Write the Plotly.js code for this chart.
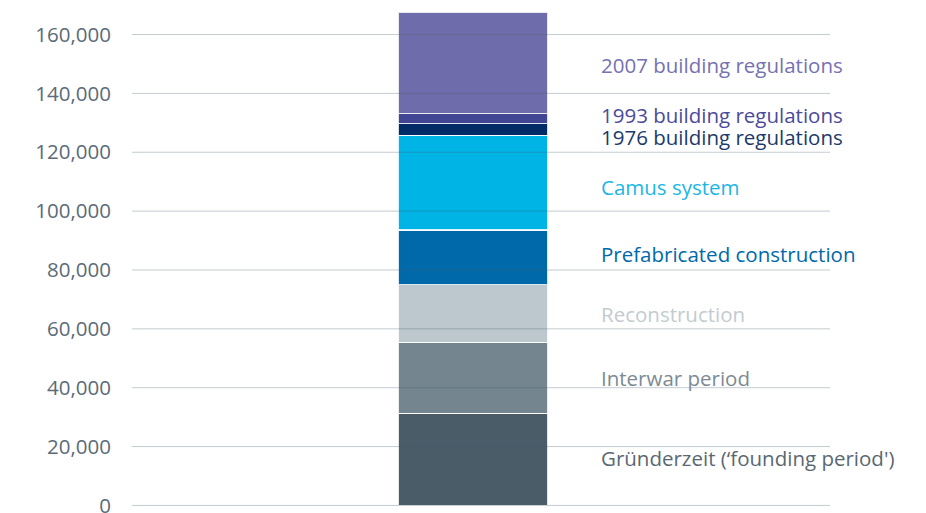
<!DOCTYPE html>
<html><head><meta charset="utf-8">
<script src="https://cdn.plot.ly/plotly-3.0.1.min.js"></script>
<style>html,body{margin:0;padding:0;background:#fff}#chart{width:926px;height:513px}</style>
</head><body><div id="chart"></div>
<script>
const category = ['Housing stock'];
const periods = ['Gründerzeit (‘founding period\')','Interwar period','Reconstruction','Prefabricated construction','Camus system','1976 building regulations','1993 building regulations','2007 building regulations'];
const values = [31300, 24100, 19600, 18600, 32100, 4000, 3400, 34500];
const barColors = ['#4b5c69','#74858f','#bcc7ce','#0069a9','#00b4e6','#002b66','#404694','#6e6caa'];
const labelColors = ['#5a6872','#7d8a93','#c3cbd1','#0069a9','#1ab6e6','#1b3a6b','#4a4b9a','#7571b2'];
const labelShift = [1,0,0,3,-4,-7,4,-2];
const tickVals = [0,20000,40000,60000,80000,100000,120000,140000,160000];
const tickText = ['0','20,000','40,000','60,000','80,000','100,000','120,000','140,000','160,000'];

const FONT = '"Open Sans", sans-serif';
const traces = periods.map((p,i)=>({
  type:'bar', x:category, y:[values[i]], name:p, width:0.5,
  marker:{color:barColors[i], line:{color:'rgba(255,255,255,0.85)', width:1.2}},
  hoverinfo:'name+y'
}));

let cum = 0;
const annotations = periods.map((p,i)=>{
  const mid = cum + values[i]/2; cum += values[i];
  return {xref:'paper', yref:'y', x:0.669, y:mid, xanchor:'left', yanchor:'middle',
    text:p, showarrow:false, yshift:labelShift[i],
    font:{family:FONT, size:20.5, color:labelColors[i]}};
});

const shapes = tickVals.map(v=>({type:'line', xref:'paper', yref:'y', x0:0, x1:1, y0:v, y1:v,
  layer:'above', line:{color:'rgba(70,92,108,0.32)', width:1}}));

const layout = {
  width:926, height:513, barmode:'stack', showlegend:false,
  margin:{l:132, r:96, t:11, b:7},
  paper_bgcolor:'#fff', plot_bgcolor:'#fff',
  xaxis:{range:[-1.137,1.19], showticklabels:false, showgrid:false, zeroline:false, showline:false, fixedrange:true},
  yaxis:{range:[-200,168000], tickvals:tickVals, ticktext:tickText, showgrid:false, zeroline:false,
    ticks:'', ticklabelstandoff:20, ticklabeloverflow:'allow',
    tickfont:{family:FONT, size:20.5, color:'#5b6b77'}},
  shapes:shapes, annotations:annotations
};
Plotly.newPlot('chart', traces, layout, {displayModeBar:false, staticPlot:true});
</script></body></html>
